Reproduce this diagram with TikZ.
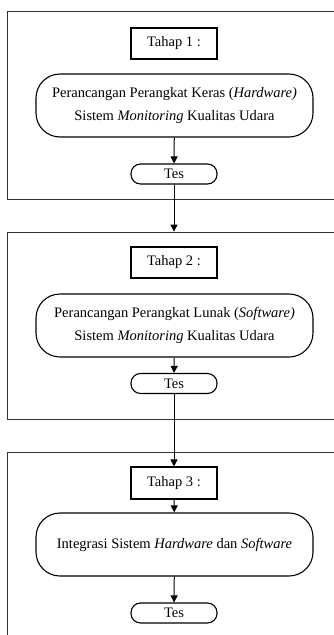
\documentclass[tikz,border=0pt]{standalone}
\usepackage{fontspec}
\setmainfont{Liberation Serif}
\usetikzlibrary{arrows.meta}

\begin{document}
\begin{tikzpicture}[x=1pt, y=-1pt,
    every node/.style={font=\fontsize{14.5}{23}\selectfont},
    panel/.style={draw=black!80, line width=0.8pt, minimum width=333pt, inner sep=0pt},
    judul/.style={draw, line width=1.1pt, minimum width=86pt, minimum height=31pt, inner sep=0pt},
    proses/.style={draw, line width=1.1pt, rounded corners=24pt, minimum width=277pt, minimum height=63pt, align=center, inner sep=0pt},
    tes/.style={draw, line width=1.1pt, rounded corners=9.5pt, minimum width=86pt, minimum height=20pt, inner sep=0pt},
    panah/.style={-{Triangle[length=7pt,width=7pt]}, line width=1pt}]
                \useasboundingbox (0,0) rectangle (334,635);
                \clip (0,0) rectangle (334,635);

                % Panels
                \node[panel, minimum height=188pt] (panel1) at (173.5,105) {};
                \node[panel, minimum height=187pt] (panel2) at (173.5,325.5) {};
                \node[panel, minimum height=198pt] (panel3) at (173.5,551) {};

                % Tahap 1
                \node[judul] (tahap1) at (174,43.5) {Tahap 1 :};
                \node[proses] (proses1) at (174.5,105.5) {Perancangan Perangkat Keras (\textit{Hardware)}\\Sistem \textit{Monitoring} Kualitas Udara};
                \node[tes] (tes1) at (174,174) {Tes};

                % Tahap 2
                \node[judul] (tahap2) at (174,262.5) {Tahap 2 :};
                \node[proses] (proses2) at (174.5,325.5) {Perancangan Perangkat Lunak (\textit{Software)}\\Sistem \textit{Monitoring} Kualitas Udara};
                \node[tes] (tes2) at (174,383.5) {Tes};

                % Tahap 3
                \node[judul, minimum height=32pt] (tahap3) at (174,483) {Tahap 3 :};
                \node[proses] (proses3) at (174.5,544.5) {Integrasi Sistem \textit{Hardware} dan \textit{Software}};
                \node[tes] (tes3) at (174,613) {Tes};

                % Edges
                \draw[panah] (proses1)--(tes1);
                \draw[panah] (tes1)--(tes1 |- panel2.north);
                \draw[panah] (proses2)--(tes2);
                \draw[panah] (tes2)--(tahap3);
                \draw[panah] (tahap3)--(proses3);
                \draw[panah] (proses3)--(tes3);
            \end{tikzpicture}
\end{document}
